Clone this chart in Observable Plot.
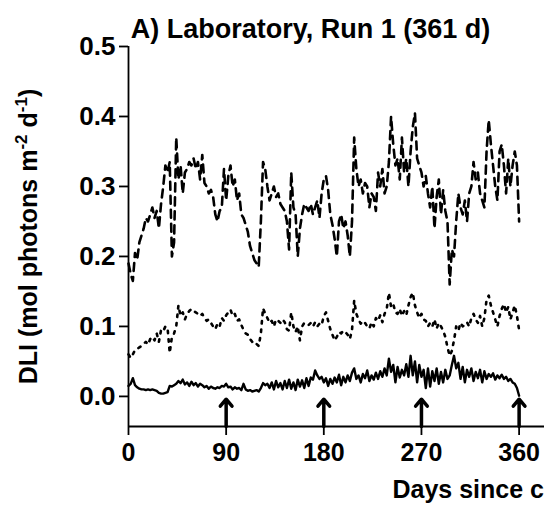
<!DOCTYPE html>
<html>
<head>
<meta charset="utf-8">
<script src="https://cdn.jsdelivr.net/npm/d3@7"></script>
<script src="https://cdn.jsdelivr.net/npm/@observablehq/plot@0.6"></script>
<style>
  html, body { margin: 0; padding: 0; background: white; overflow: hidden; }
  #chart svg { overflow: hidden; display: block; }
</style>
</head>
<body>
<div id="chart"></div>
<script>
// ---- data (one value every 2 days) ----
const titleText = "A) Laboratory, Run 1 (361 d)";
const xLabelText = "Days since collection";
const yLabelText = "DLI (mol photons m-2 d-1)";
const xTicks = [0, 90, 180, 270, 360];
const yTicks = [0, 0.1, 0.2, 0.3, 0.4, 0.5];
const arrowDays = [90, 180, 270, 360];
const xDomain = [0, 383.4];
const yDomain = [-0.043, 0.5];
const arrowTip = -0.004;
const days = d3.range(0, 361, 2);

const dashedVals = [
  0.19, 0.175, 0.165, 0.205, 0.195, 0.22, 0.23, 0.24, 0.255, 0.25,
  0.26, 0.27, 0.255, 0.265, 0.24, 0.275, 0.3, 0.33, 0.32, 0.335,
  0.2, 0.22, 0.37, 0.31, 0.33, 0.29, 0.32, 0.325, 0.335, 0.33,
  0.34, 0.325, 0.335, 0.31, 0.345, 0.305, 0.3, 0.29, 0.295, 0.285,
  0.26, 0.25, 0.265, 0.27, 0.325, 0.28, 0.315, 0.33, 0.3, 0.31,
  0.28, 0.29, 0.26, 0.255, 0.245, 0.235, 0.215, 0.205, 0.195, 0.19,
  0.185, 0.25, 0.335, 0.325, 0.3, 0.28, 0.29, 0.3, 0.285, 0.29,
  0.275, 0.27, 0.265, 0.25, 0.21, 0.32, 0.27, 0.26, 0.2, 0.24,
  0.26, 0.275, 0.27, 0.265, 0.275, 0.26, 0.27, 0.28, 0.255, 0.29,
  0.31, 0.315, 0.295, 0.26, 0.245, 0.225, 0.2, 0.25, 0.26, 0.24,
  0.25, 0.23, 0.2, 0.25, 0.37, 0.325, 0.3, 0.31, 0.29, 0.305,
  0.3, 0.27, 0.29, 0.285, 0.265, 0.32, 0.3, 0.325, 0.29, 0.3,
  0.335, 0.4, 0.36, 0.33, 0.34, 0.31, 0.37, 0.32, 0.34, 0.3,
  0.35, 0.385, 0.405, 0.34, 0.33, 0.32, 0.3, 0.315, 0.29, 0.27,
  0.3, 0.24, 0.285, 0.31, 0.26, 0.295, 0.265, 0.25, 0.16, 0.21,
  0.2, 0.25, 0.29, 0.27, 0.26, 0.28, 0.25, 0.29, 0.3, 0.335,
  0.31, 0.32, 0.29, 0.28, 0.27, 0.35, 0.395, 0.36, 0.33, 0.3,
  0.28, 0.35, 0.36, 0.33, 0.29, 0.34, 0.3, 0.33, 0.35, 0.33,
  0.25
];

const dottedVals = [
  0.06, 0.055, 0.06, 0.066, 0.068, 0.07, 0.072, 0.075, 0.078, 0.074,
  0.082, 0.085, 0.08, 0.09, 0.078, 0.095, 0.093, 0.1, 0.098, 0.062,
  0.085, 0.09, 0.1, 0.13, 0.115, 0.12, 0.11, 0.118, 0.122, 0.125,
  0.122, 0.12, 0.118, 0.115, 0.118, 0.112, 0.108, 0.11, 0.105, 0.1,
  0.096, 0.104, 0.1, 0.112, 0.108, 0.116, 0.12, 0.124, 0.115, 0.118,
  0.108, 0.11, 0.102, 0.095, 0.09, 0.088, 0.082, 0.078, 0.074, 0.075,
  0.072, 0.09, 0.126, 0.118, 0.112, 0.105, 0.108, 0.1, 0.11, 0.108,
  0.105, 0.11, 0.106, 0.096, 0.094, 0.12, 0.1, 0.092, 0.1, 0.08,
  0.1, 0.105, 0.104, 0.102, 0.105, 0.1, 0.106, 0.1, 0.104, 0.102,
  0.115, 0.12, 0.108, 0.096, 0.088, 0.08, 0.085, 0.092, 0.09, 0.094,
  0.092, 0.088, 0.082, 0.095, 0.137, 0.118, 0.11, 0.104, 0.108, 0.105,
  0.1, 0.097, 0.106, 0.1, 0.112, 0.108, 0.116, 0.106, 0.118, 0.125,
  0.148, 0.128, 0.132, 0.12, 0.118, 0.125, 0.115, 0.122, 0.116, 0.13,
  0.142, 0.148, 0.13, 0.12, 0.112, 0.118, 0.11, 0.108, 0.1, 0.105,
  0.1, 0.11, 0.097, 0.105, 0.1, 0.094, 0.085, 0.07, 0.058, 0.065,
  0.08, 0.1, 0.094, 0.105, 0.1, 0.102, 0.106, 0.1, 0.112, 0.118,
  0.11, 0.105, 0.115, 0.1, 0.112, 0.138, 0.144, 0.13, 0.12, 0.11,
  0.1, 0.115, 0.125, 0.132, 0.12, 0.128, 0.11, 0.12, 0.13, 0.115,
  0.095
];

const solidVals = [
  0.015, 0.018, 0.026, 0.016, 0.013, 0.011, 0.01, 0.01, 0.009, 0.01,
  0.009, 0.01, 0.009, 0.008, 0.005, 0.004, 0.004, 0.005, 0.006, 0.015,
  0.014, 0.016, 0.018, 0.022, 0.019, 0.024, 0.017, 0.02, 0.015, 0.021,
  0.016, 0.019, 0.014, 0.018, 0.016, 0.013, 0.015, 0.011, 0.014, 0.012,
  0.011, 0.013, 0.012, 0.015, 0.014, 0.018, 0.013, 0.014, 0.01, 0.013,
  0.011, 0.012, 0.009, 0.018, 0.01, 0.008, 0.009, 0.007, 0.008, 0.009,
  0.007, 0.012, 0.019, 0.016, 0.018, 0.012, 0.02, 0.01, 0.022, 0.013,
  0.019, 0.01, 0.022, 0.012, 0.024, 0.011, 0.02, 0.009, 0.024, 0.014,
  0.023, 0.012, 0.026, 0.015, 0.027, 0.024, 0.037, 0.03, 0.025, 0.028,
  0.02, 0.026, 0.015, 0.025, 0.018, 0.027, 0.02, 0.031, 0.016, 0.028,
  0.02, 0.03, 0.022, 0.034, 0.04, 0.025, 0.03, 0.02, 0.032, 0.026,
  0.037, 0.022, 0.03, 0.024, 0.034, 0.025, 0.036, 0.028, 0.04, 0.03,
  0.054, 0.035, 0.045, 0.02, 0.042, 0.027, 0.038, 0.03, 0.046, 0.028,
  0.058, 0.03, 0.05, 0.02, 0.045, 0.028, 0.038, 0.012, 0.04, 0.014,
  0.036, 0.022, 0.04, 0.018, 0.035, 0.02, 0.038, 0.025, 0.03, 0.045,
  0.058, 0.04, 0.048, 0.025, 0.042, 0.02, 0.038, 0.028, 0.04, 0.022,
  0.035, 0.026, 0.038, 0.02, 0.036, 0.025, 0.032, 0.028, 0.033, 0.024,
  0.03, 0.026, 0.031, 0.025, 0.028, 0.022, 0.025, 0.02, 0.018, 0.012,
  0.001
];

const toRows = vals => days.map((d, i) => ({day: d, v: vals[i]}));

const chart = Plot.plot({
  width: 544,
  height: 515,
  marginLeft: 128,
  marginRight: 0,
  marginTop: 46,
  marginBottom: 89,
  style: "font-family: 'Liberation Sans', Arial, sans-serif; font-size: 26px; font-weight: bold; background: white; color: black; overflow: hidden;",
  x: {domain: xDomain},
  y: {domain: yDomain},
  marks: [
    Plot.ruleX([xDomain[0]], {y1: yDomain[0], y2: yDomain[1], strokeWidth: 1.8}),
    Plot.ruleY([yDomain[0]], {x1: xDomain[0], x2: xDomain[1], strokeWidth: 1.8}),
    Plot.axisY({ticks: yTicks, tickFormat: d3.format(".1f"), tickSize: 9, tickPadding: 4, strokeWidth: 1.8, label: null, fontSize: 26}),
    Plot.axisX({ticks: xTicks, tickSize: 9, tickPadding: 8, strokeWidth: 1.8, label: null, fontSize: 25}),
    Plot.line(toRows(dashedVals), {x: "day", y: "v", stroke: "black", strokeWidth: 2.6, strokeDasharray: "8,6"}),
    Plot.line(toRows(dottedVals), {x: "day", y: "v", stroke: "black", strokeWidth: 2.6, strokeDasharray: "2.5,6"}),
    Plot.line(toRows(solidVals), {x: "day", y: "v", stroke: "black", strokeWidth: 2.4}),
    Plot.arrow(arrowDays, {x1: d => d, x2: d => d, y1: yDomain[0], y2: arrowTip, stroke: "black", strokeWidth: 3.5, headLength: 12, headAngle: 80}),
    Plot.text([titleText], {frameAnchor: "top", dx: -26, dy: -28, fontSize: 27, fontWeight: "bold"}),
    Plot.text([xLabelText], {frameAnchor: "bottom-left", textAnchor: "start", dx: 264, dy: 71, fontSize: 25, fontWeight: "bold"}),
    Plot.text([yLabelText], {frameAnchor: "left", rotate: -90, dx: -100, textAnchor: "middle", fontSize: 25, fontWeight: "bold"})
  ]
});

document.getElementById("chart").appendChild(chart);

// superscripts in the y label
const svgNS = "http://www.w3.org/2000/svg";
const ylab = Array.from(chart.querySelectorAll("text")).find(t => t.textContent === yLabelText);
if (ylab) {
  ylab.textContent = "";
  ylab.setAttribute("text-anchor", "middle");
  const parts = [["DLI (mol photons m", false], ["-2", true], [" d", false], ["-1", true], [")", false]];
  let prevSup = false;
  for (const [s, sup] of parts) {
    const ts = document.createElementNS(svgNS, "tspan");
    ts.textContent = s;
    if (sup) { ts.setAttribute("font-size", "17"); ts.setAttribute("dy", "-10"); }
    else if (prevSup) { ts.setAttribute("dy", "10"); }
    prevSup = sup;
    ylab.appendChild(ts);
  }
}
</script>
</body>
</html>
